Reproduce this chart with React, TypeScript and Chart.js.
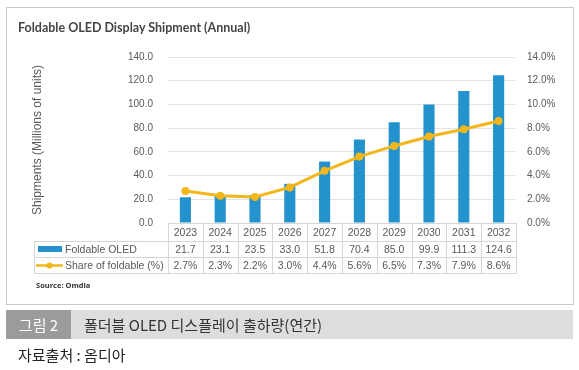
import React, { useEffect, useRef } from "react";
import { Chart, registerables } from "chart.js";

Chart.register(...registerables);

const categories = ["2023", "2024", "2025", "2026", "2027", "2028", "2029", "2030", "2031", "2032"];
const shipments = [21.7, 23.1, 23.5, 33.0, 51.8, 70.4, 85.0, 99.9, 111.3, 124.6];
const sharePct = [2.7, 2.3, 2.2, 3.0, 4.4, 5.6, 6.5, 7.3, 7.9, 8.6];
const shipmentLabels = ["21.7", "23.1", "23.5", "33.0", "51.8", "70.4", "85.0", "99.9", "111.3", "124.6"];
const shareLabels = ["2.7%", "2.3%", "2.2%", "3.0%", "4.4%", "5.6%", "6.5%", "7.3%", "7.9%", "8.6%"];
const seriesNames = ["Foldable OLED", "Share of foldable (%)"];

const BAR_COLOR = "#2493CD";
const LINE_COLOR = "#F3B71B";
const TEXT_COLOR = "#595959";
const FONT = "'Liberation Sans', Arial, sans-serif";

const tablePlugin = {
  id: "dataTable",
  afterDraw(chart: any) {
    const { ctx, chartArea, scales } = chart;
    const xs = scales.x;
    const c0 = xs.getPixelForValue(0);
    const c1 = xs.getPixelForValue(1);
    const w = c1 - c0;
    const left = Math.round(c0 - w / 2);
    const right = Math.round(xs.getPixelForValue(categories.length - 1) + w / 2);
    const top = Math.round(chartArea.bottom);
    const rows = [top, top + 18, top + 34, top + 50];
    const legendLeft = 34;
    const L = (x1: number, y1: number, x2: number, y2: number) => {
      ctx.moveTo(x1, y1);
      ctx.lineTo(x2, y2);
    };
    ctx.save();
    ctx.strokeStyle = "#d6d6d6";
    ctx.lineWidth = 1;
    ctx.beginPath();
    L(left, rows[0] + 0.5, right, rows[0] + 0.5);
    for (let r = 1; r < 4; r++) L(legendLeft, rows[r] + 0.5, right, rows[r] + 0.5);
    for (let i = 0; i <= categories.length; i++) {
      const xx = Math.round(c0 - w / 2 + i * w) + 0.5;
      L(xx, rows[0], xx, rows[3] + 1);
    }
    L(legendLeft + 0.5, rows[1], legendLeft + 0.5, rows[3] + 1);
    ctx.stroke();

    ctx.fillStyle = TEXT_COLOR;
    ctx.font = `10.5px ${FONT}`;
    ctx.textAlign = "center";
    ctx.textBaseline = "middle";
    categories.forEach((c, i) => {
      const cx = xs.getPixelForValue(i);
      ctx.fillText(c, cx, (rows[0] + rows[1]) / 2 + 1);
      ctx.fillText(shipmentLabels[i], cx, (rows[1] + rows[2]) / 2 + 1);
      ctx.fillText(shareLabels[i], cx, (rows[2] + rows[3]) / 2 + 1);
    });

    // legend cells
    ctx.textAlign = "left";
    ctx.fillText(seriesNames[0], 65, (rows[1] + rows[2]) / 2 + 1);
    ctx.fillText(seriesNames[1], 65, (rows[2] + rows[3]) / 2 + 1);
    ctx.fillStyle = BAR_COLOR;
    ctx.fillRect(38, rows[1] + 5, 24, 6);
    const ly = (rows[2] + rows[3]) / 2 + 0.5;
    ctx.strokeStyle = LINE_COLOR;
    ctx.lineWidth = 2.5;
    ctx.beginPath();
    ctx.moveTo(36, ly);
    ctx.lineTo(63, ly);
    ctx.stroke();
    ctx.fillStyle = LINE_COLOR;
    ctx.beginPath();
    ctx.arc(49.5, ly, 3, 0, Math.PI * 2);
    ctx.fill();
    ctx.restore();
  },
};

export default function App() {
  const ref = useRef<HTMLCanvasElement>(null);
  useEffect(() => {
    if (!ref.current) return;
    const chart = new Chart(ref.current, {
      type: "bar",
      data: {
        labels: categories,
        datasets: [
          {
            type: "line",
            label: seriesNames[1],
            data: sharePct,
            yAxisID: "y1",
            borderColor: LINE_COLOR,
            backgroundColor: LINE_COLOR,
            borderWidth: 3,
            pointRadius: 4,
            pointBackgroundColor: LINE_COLOR,
            pointBorderWidth: 0,
            tension: 0,
            order: 0,
          } as any,
          {
            type: "bar",
            label: seriesNames[0],
            data: shipments,
            yAxisID: "y",
            backgroundColor: BAR_COLOR,
            barPercentage: 0.32,
            categoryPercentage: 1,
            order: 1,
          },
        ],
      },
      options: {
        responsive: false,
        animation: false,
        layout: { padding: { top: 57, bottom: 82, left: 0, right: 0 } },
        plugins: {
          legend: { display: false },
          tooltip: { enabled: false },
          title: { display: false },
        },
        scales: {
          x: { display: false, offset: true },
          y: {
            position: "left",
            min: 0,
            max: 140,
            border: { display: false },
            grid: { color: "#e4e4e4", drawTicks: false, lineWidth: 1 },
            ticks: {
              stepSize: 20,
              padding: 15,
              color: TEXT_COLOR,
              font: { family: FONT, size: 10 },
              callback: (v: any) => Number(v).toFixed(1),
            },
            title: {
              display: true,
              text: "Shipments (Millions of units)",
              color: TEXT_COLOR,
              font: { family: FONT, size: 12 },
              padding: { top: 30, bottom: 0 },
            },
            afterFit: (s: any) => {
              s.width = 168;
            },
          },
          y1: {
            position: "right",
            min: 0,
            max: 14,
            border: { display: false },
            grid: { display: false, drawTicks: false },
            ticks: {
              stepSize: 2,
              padding: 11,
              color: TEXT_COLOR,
              font: { family: FONT, size: 10 },
              callback: (v: any) => Number(v).toFixed(1) + "%",
            },
            afterFit: (s: any) => {
              s.width = 63;
            },
          },
        },
      },
      plugins: [tablePlugin],
    });
    return () => chart.destroy();
  }, []);

  return (
    <div style={{ position: "fixed", left: 0, top: 0, width: 579, height: 370, background: "#fff", overflow: "hidden" }}>
      <div
        style={{
          position: "absolute",
          left: 6,
          top: 7,
          width: 566,
          height: 296,
          border: "1px solid #c9c9c9",
          boxSizing: "content-box",
        }}
      />
      <canvas ref={ref} width={579} height={305} style={{ position: "absolute", left: 0, top: 0, width: 579, height: 305 }} />
      <div
        style={{
          position: "absolute",
          left: 18,
          top: 19,
          fontFamily: "Lato, sans-serif",
          fontWeight: 700,
          fontSize: 12.5,
          color: "#454545",
          whiteSpace: "nowrap",
          lineHeight: "18px",
        }}
      >
        Foldable OLED Display Shipment (Annual)
      </div>
      <div
        style={{
          position: "absolute",
          left: 36,
          top: 280,
          fontFamily: "'Open Sans', sans-serif",
          fontWeight: 700,
          fontSize: 7.5,
          color: "#333",
          whiteSpace: "nowrap",
          lineHeight: "10px",
        }}
      >
        Source: Omdia
      </div>
      <div style={{ position: "absolute", left: 6, top: 310, width: 567, height: 29, background: "#dcdddf" }} />
      <div
        style={{
          position: "absolute",
          left: 6,
          top: 310,
          width: 65,
          height: 29,
          background: "#9b9b9b",
          color: "#fff",
          fontFamily: "'Noto Sans CJK KR', sans-serif",
          fontSize: 15,
          lineHeight: "29px",
          textAlign: "center",
        }}
      >
        그림 2
      </div>
      <div
        style={{
          position: "absolute",
          left: 84,
          top: 310,
          height: 29,
          color: "#333",
          fontFamily: "'Noto Sans CJK KR', sans-serif",
          fontSize: 15,
          lineHeight: "29px",
          whiteSpace: "nowrap",
          letterSpacing: 0,
        }}
      >
        폴더블 OLED 디스플레이 출하량(연간)
      </div>
      <div
        style={{
          position: "absolute",
          left: 18,
          top: 343,
          color: "#222",
          fontFamily: "'Noto Sans CJK KR', sans-serif",
          fontSize: 15,
          lineHeight: "24px",
          whiteSpace: "nowrap",
        }}
      >
        자료출처 : 옴디아
      </div>
    </div>
  );
}
